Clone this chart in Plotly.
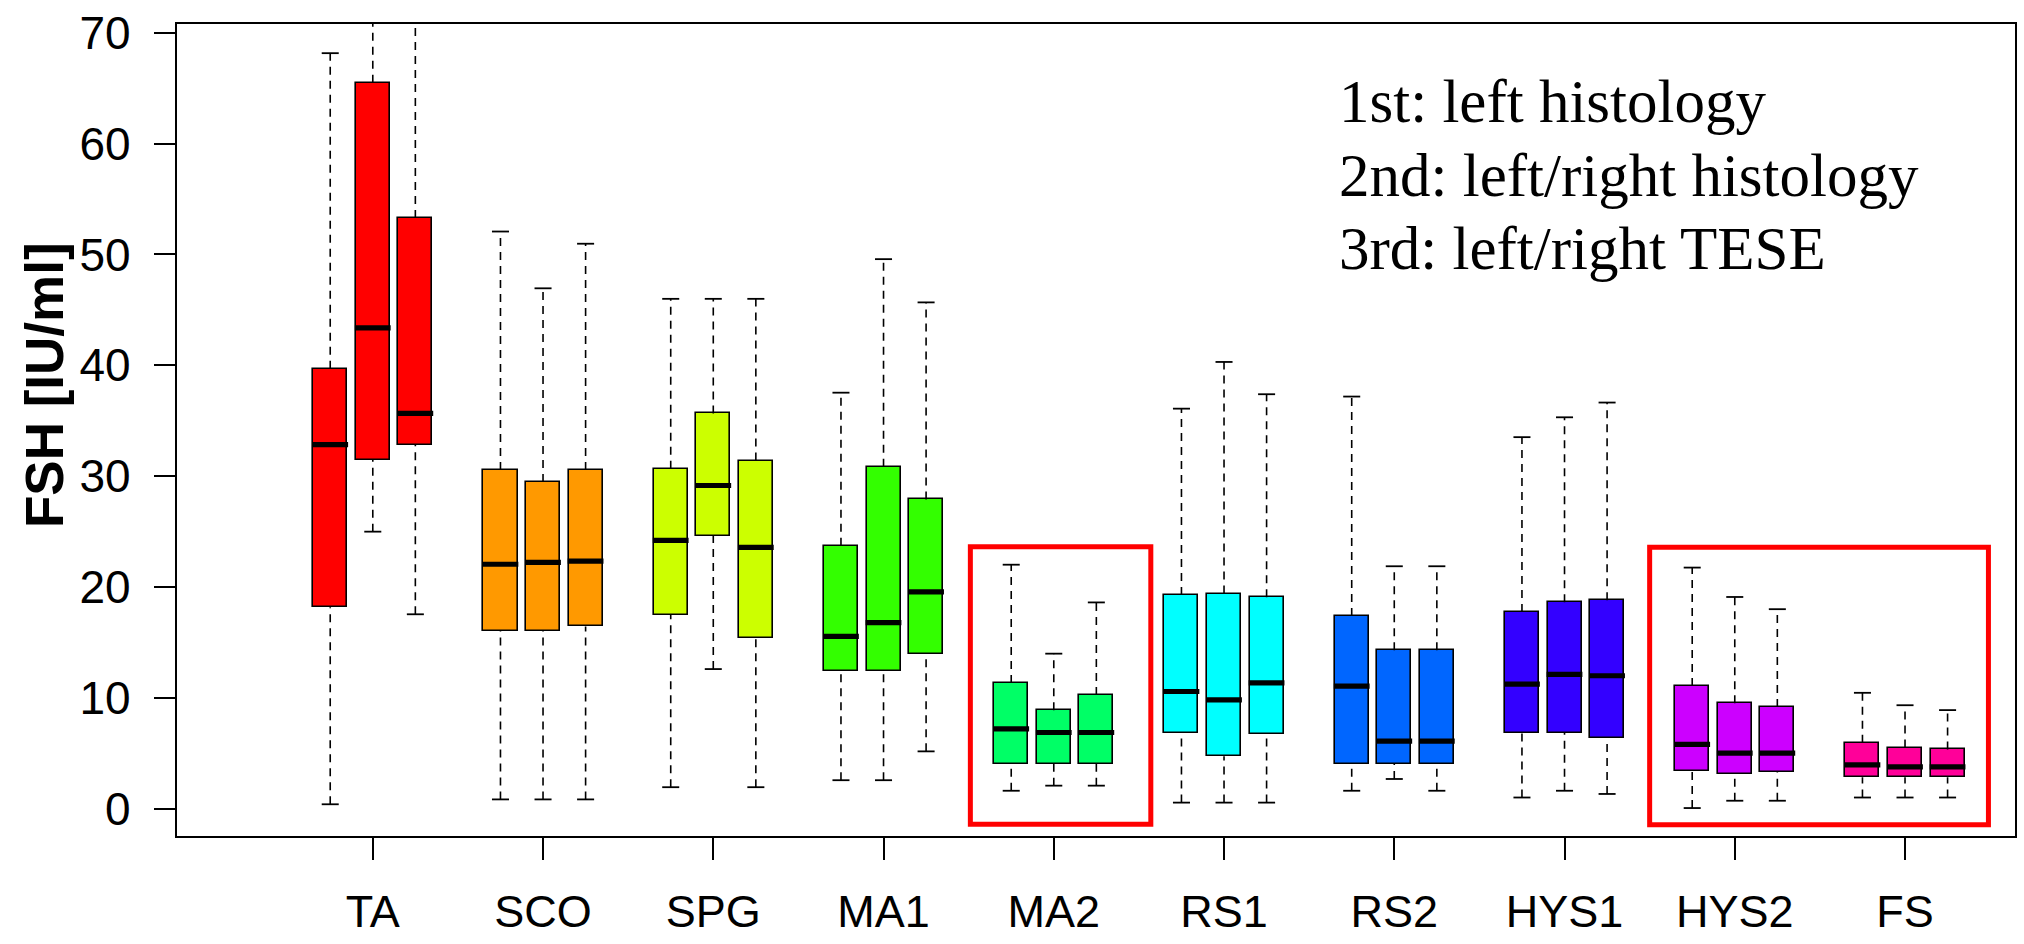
import plotly.graph_objects as go

# ---------------- data ----------------
categories = ["TA", "SCO", "SPG", "MA1", "MA2", "RS1", "RS2", "HYS1", "HYS2", "FS"]
colors = ["#FF0000", "#FF9900", "#CCFF00", "#33FF00", "#00FF66",
          "#00FFFF", "#0066FF", "#3300FF", "#CC00FF", "#FF0099"]

# per group: [1st, 2nd, 3rd]
whisker_low = [[0.43, 25.01, 17.56], [0.87, 0.87, 0.87], [1.97, 12.62, 1.97],
               [2.60, 2.60, 5.20], [1.65, 2.11, 2.11], [0.58, 0.58, 0.58],
               [1.65, 2.71, 1.65], [1.04, 1.65, 1.36], [0.09, 0.75, 0.75],
               [1.04, 1.04, 1.04]]
q1 = [[18.19, 31.47, 32.86], [16.05, 16.05, 16.46], [17.53, 24.66, 15.39],
      [12.45, 12.45, 14.01], [4.10, 4.10, 4.10], [6.87, 4.76, 6.73],
      [4.10, 4.10, 4.10], [6.87, 6.87, 6.44], [3.47, 3.18, 3.32],
      [2.86, 2.86, 2.86]]
median = [[32.86, 43.38, 35.67], [22.07, 22.24, 22.35], [24.23, 29.17, 23.59],
          [15.57, 16.81, 19.58], [7.22, 6.90, 6.90], [10.60, 9.85, 11.37],
          [11.09, 6.12, 6.12], [11.26, 12.15, 12.02], [5.83, 5.05, 5.05],
          [3.99, 3.81, 3.81]]
q3 = [[39.70, 65.49, 53.28], [30.56, 29.48, 30.56], [30.69, 35.67, 31.42],
      [23.74, 30.87, 27.92], [11.37, 8.90, 10.28], [19.29, 19.43, 19.09],
      [17.41, 14.32, 14.32], [17.76, 18.65, 18.83], [11.09, 9.53, 9.21],
      [5.98, 5.54, 5.37]]
whisker_high = [[68.15, 75.0, 74.0], [52.07, 46.95, 50.97], [46.0, 46.0, 46.0],
                [37.54, 49.58, 45.68], [22.03, 14.01, 18.63], [36.10, 40.31, 37.40],
                [37.19, 21.89, 21.89], [33.53, 35.32, 36.65], [21.77, 19.12, 18.02],
                [10.48, 9.36, 8.92]]

y_ticks = [0, 10, 20, 30, 40, 50, 60, 70]
legend_lines = ["1st: left histology", "2nd: left/right histology", "3rd: left/right TESE"]

# highlighted regions (red frames)
highlight_x0 = [4.51, 8.50]
highlight_x1 = [5.57, 10.49]
highlight_y0 = [-1.36, -1.42]
highlight_y1 = [23.65, 23.60]

# ---------------- layout constants ----------------
group_pos = list(range(1, len(categories) + 1))
offsets = [-0.25, 0.0, 0.25]
box_w = 0.2
cap_half = 0.05
med_half = 0.105

fig = go.Figure()

# boxes
for k, off in enumerate(offsets):
    xs = [g + off for g in group_pos]
    base = [q1[i][k] for i in range(len(categories))]
    height = [q3[i][k] - q1[i][k] for i in range(len(categories))]
    fig.add_trace(go.Bar(x=xs, y=height, base=base, width=box_w,
                         marker=dict(color=colors, line=dict(color="black", width=1.6)),
                         showlegend=False, hoverinfo="skip"))

# whiskers (dashed) and caps, medians
wx, wy, cx, cy, mx, my = [], [], [], [], [], []
for i, g in enumerate(group_pos):
    for k, off in enumerate(offsets):
        x = g + off
        wx += [x, x, None, x, x, None]
        wy += [q3[i][k], whisker_high[i][k], None, whisker_low[i][k], q1[i][k], None]
        cx += [x - cap_half, x + cap_half, None, x - cap_half, x + cap_half, None]
        cy += [whisker_high[i][k], whisker_high[i][k], None,
               whisker_low[i][k], whisker_low[i][k], None]
        mx += [x - med_half, x + med_half, None]
        my += [median[i][k], median[i][k], None]

fig.add_trace(go.Scatter(x=wx, y=wy, mode="lines",
                         line=dict(color="black", width=1.6, dash="8px,6px"),
                         showlegend=False, hoverinfo="skip"))
fig.add_trace(go.Scatter(x=cx, y=cy, mode="lines",
                         line=dict(color="black", width=1.8),
                         showlegend=False, hoverinfo="skip"))
fig.add_trace(go.Scatter(x=mx, y=my, mode="lines",
                         line=dict(color="black", width=5.2),
                         showlegend=False, hoverinfo="skip"))

# red highlight frames
for x0, x1, y0, y1 in zip(highlight_x0, highlight_x1, highlight_y0, highlight_y1):
    fig.add_shape(type="rect", xref="x", yref="y", x0=x0, x1=x1, y0=y0, y1=y1,
                  line=dict(color="#FF0000", width=5), fillcolor="rgba(0,0,0,0)")

# legend text
legend_y = [63.8, 57.1, 50.5]
for txt, yv in zip(legend_lines, legend_y):
    fig.add_annotation(x=6.663, y=yv, xref="x", yref="y", text=txt, showarrow=False,
                       xanchor="left", yanchor="middle",
                       font=dict(family="Liberation Serif", size=61, color="black"))

# y-axis title
fig.add_annotation(x=-0.072, y=38.2, xref="paper", yref="y", text="<b>FSH [IU/ml]</b>",
                   textangle=-90, showarrow=False, xanchor="center", yanchor="middle",
                   font=dict(family="Liberation Sans", size=53, color="black"))

fig.update_layout(
    width=2024, height=944, autosize=False,
    margin=dict(l=177, r=7, t=14, b=85),
    plot_bgcolor="white", paper_bgcolor="white",
    barmode="overlay", bargap=0, showlegend=False,
    font=dict(family="Liberation Sans", color="black"),
)
fig.update_xaxes(range=[-0.15, 10.646], tickvals=group_pos, ticktext=categories,
                 ticks="outside", ticklen=22, tickwidth=1.6, tickcolor="black",
                 showline=True, mirror=True, linecolor="black", linewidth=2.2,
                 showgrid=False, zeroline=False, ticklabelstandoff=13,
                 ticklabeloverflow="allow",
                 tickfont=dict(family="Liberation Sans", size=45, color="black"))
fig.update_yaxes(range=[-2.43, 70.78], tickvals=y_ticks,
                 ticks="outside", ticklen=21, tickwidth=1.6, tickcolor="black",
                 showline=True, mirror=True, linecolor="black", linewidth=2.2,
                 showgrid=False, zeroline=False, ticklabelstandoff=14,
                 ticklabeloverflow="allow",
                 tickfont=dict(family="Liberation Sans", size=46, color="black"))

fig.write_html("out.html")
